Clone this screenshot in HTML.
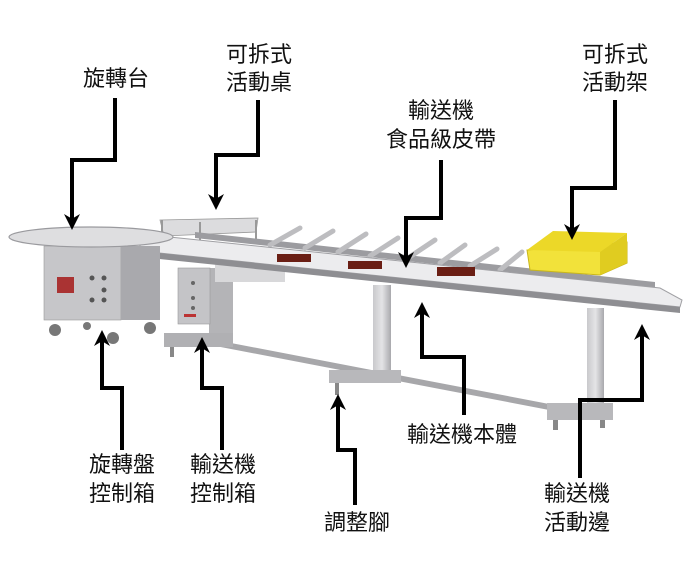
<!DOCTYPE html>
<html><head><meta charset="utf-8"><style>
html,body{margin:0;padding:0;background:#fff;width:693px;height:572px;overflow:hidden}
svg{display:block}
text{font-family:"Liberation Sans","Noto Sans CJK TC",sans-serif;font-size:22px;fill:#111}
</style></head><body>
<svg width="693" height="572" viewBox="0 0 693 572">
<defs>
<marker id="ah" viewBox="0 0 10 10" refX="5" refY="5" markerWidth="4" markerHeight="4" orient="auto-start-reverse">
<path d="M0,0 L10,5 L0,10 L3,5 z" fill="#000"/></marker>
<linearGradient id="steel" x1="0" x2="1"><stop offset="0" stop-color="#c9c9cc"/><stop offset="0.5" stop-color="#e4e4e6"/><stop offset="1" stop-color="#a9a9ad"/></linearGradient>
</defs>
<polygon points="205,338 570,408 570,414 205,344" fill="#a7a7aa"/>
<rect x="373" y="285" width="18" height="87" fill="url(#steel)"/>
<rect x="329" y="370" width="72" height="13" fill="#b8b8bb"/>
<rect x="335" y="383" width="4" height="12" fill="#888"/>
<rect x="587" y="308" width="17" height="97" fill="url(#steel)"/>
<rect x="547" y="403" width="66" height="17" fill="#b8b8bb"/>
<rect x="553" y="420" width="5" height="10" fill="#888"/><rect x="600" y="420" width="5" height="8" fill="#888"/>
<rect x="209" y="268" width="24" height="75" fill="#b4b4b7"/>
<rect x="178" y="268" width="32" height="56" fill="#c4c4c7" stroke="#999" stroke-width="0.6"/>
<rect x="164" y="333" width="69" height="14" fill="#b0b0b3"/>
<rect x="170" y="347" width="4" height="10" fill="#888"/>
<circle cx="193" cy="283" r="2" fill="#666"/><circle cx="193" cy="298" r="2" fill="#666"/><circle cx="193" cy="308" r="2" fill="#666"/>
<rect x="184" y="314" width="12" height="3" fill="#b33"/>
<rect x="215" y="262" width="70" height="20" fill="#d8d8da"/>
<polygon points="160,220 258,218 256,232 164,236" fill="#dcdcde" stroke="#999" stroke-width="0.8"/>
<line x1="162" y1="220" x2="162" y2="245" stroke="#999" stroke-width="2"/>
<line x1="200" y1="222" x2="200" y2="252" stroke="#999" stroke-width="2"/>
<line x1="256" y1="220" x2="256" y2="244" stroke="#999" stroke-width="2"/>
<polygon points="195,232 655,282 655,288 195,238" fill="#9c9ca0"/>
<g stroke="#bdbdc0" stroke-width="5" stroke-linecap="round">
<line x1="270" y1="245" x2="300" y2="228"/><line x1="305" y1="248" x2="333" y2="231"/>
<line x1="338" y1="252" x2="366" y2="234"/><line x1="370" y1="256" x2="398" y2="238"/>
<line x1="405" y1="260" x2="435" y2="240"/><line x1="440" y1="263" x2="465" y2="245"/>
<line x1="470" y1="266" x2="497" y2="249"/><line x1="500" y1="270" x2="522" y2="252"/>
</g>
<!-- yellow crate -->
<polygon points="527,250 627,242 627,263 600,275 530,270" fill="#f2e23a" stroke="#c9b61a" stroke-width="1"/>
<polygon points="527,250 553,231 627,233 600,252" fill="#ecd828"/>
<polygon points="600,252 627,233 627,263 600,275" fill="#e0cc20"/>
<polygon points="140,243 160,236 660,288 682,300 680,307 140,251" fill="#ececee" stroke="#a0a0a4" stroke-width="1"/>
<polygon points="140,251 680,307 680,313 140,257" fill="#8e8e92"/>
<rect x="277" y="254" width="34" height="8" fill="#6a1e14"/>
<rect x="348" y="261" width="34" height="8" fill="#6a1e14"/>
<rect x="437" y="267" width="38" height="9" fill="#6a1e14"/>
<rect x="44" y="246" width="77" height="74" fill="#c6c6c9" stroke="#999" stroke-width="0.6"/>
<rect x="121" y="246" width="39" height="74" fill="#a9a9ad"/>
<rect x="57" y="277" width="17" height="16" fill="#a33"/>
<circle cx="92" cy="278" r="2.5" fill="#555"/><circle cx="104" cy="278" r="2.5" fill="#555"/>
<circle cx="104" cy="290" r="2.5" fill="#555"/><circle cx="92" cy="300" r="2.5" fill="#555"/><circle cx="104" cy="300" r="2.5" fill="#555"/>
<g fill="#777"><circle cx="55" cy="330" r="6"/><circle cx="113" cy="338" r="6"/><circle cx="150" cy="328" r="6"/><circle cx="87" cy="326" r="4"/></g>
<ellipse cx="91" cy="237" rx="82" ry="10" fill="#dedee0" stroke="#9a9a9e" stroke-width="1.2"/>
<g fill="none" stroke="#000" stroke-width="4" marker-end="url(#ah)">
<polyline points="115,98 115,160 72,160 72,222"/>
<polyline points="258,100 258,155 216,155 216,202"/>
<polyline points="441,160 441,218 406,218 406,260"/>
<polyline points="615,100 615,188 572,188 572,232"/>
<polyline points="122,450 122,388 102,388 102,338"/>
<polyline points="222,450 222,388 202,388 202,345"/>
<polyline points="355,505 355,450 338,450 338,402"/>
<polyline points="464,415 464,357 422,357 422,310"/>
<polyline points="580,478 580,400 642,400 642,332"/>
</g>
<g text-anchor="middle">
<text x="116" y="86">旋轉台</text>
<text x="259" y="62">可拆式</text><text x="259" y="90">活動桌</text>
<text x="441" y="118">輸送機</text><text x="441" y="147">食品級皮帶</text>
<text x="615" y="62">可拆式</text><text x="615" y="90">活動架</text>
<text x="122" y="472">旋轉盤</text><text x="122" y="501">控制箱</text>
<text x="223" y="472">輸送機</text><text x="223" y="501">控制箱</text>
<text x="462" y="442">輸送機本體</text>
<text x="357" y="530">調整腳</text>
<text x="577" y="501">輸送機</text><text x="577" y="530">活動邊</text>
</g>
</svg>
</body></html>
